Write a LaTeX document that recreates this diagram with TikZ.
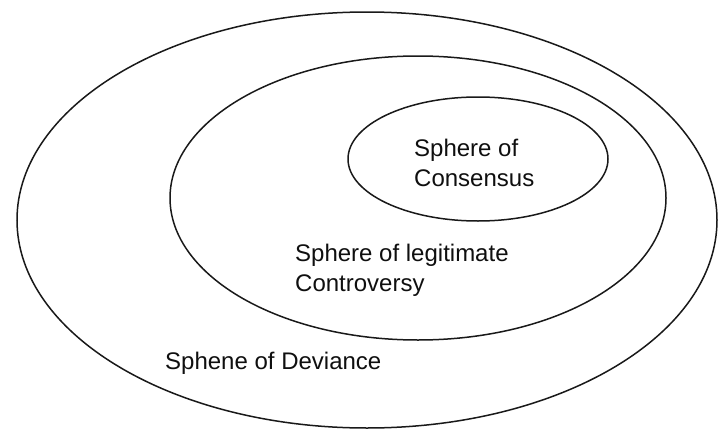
\documentclass[tikz,border=0pt]{standalone}
\usepackage{fontspec}
\setmainfont{Liberation Sans}
\usepackage{tikz}
\definecolor{sphereline}{RGB}{25, 25, 25}
\definecolor{spheretxt} {RGB}{15, 15, 15}

\begin{document}
\begin{tikzpicture}[x=1pt, y=-1pt,
  sphere/.style={line width=1.5pt, sphereline},
  spheretext/.style={spheretxt, inner sep=0pt, align=left,
    font=\fontsize{24}{30}\selectfont}]
  \useasboundingbox (0,0) rectangle (718,431);
  % spheres, outermost first
  \draw[sphere] (367,220) ellipse [x radius=350pt, y radius=208pt];
  \draw[sphere] (418,198) ellipse [x radius=248pt, y radius=142pt];
  \draw[sphere] (478,159) ellipse [x radius=130pt, y radius=62pt];
  % labels
  \node[spheretext, anchor=north west] (consensus) at (414,139) {Sphere of\\Consensus};
  \node[spheretext, anchor=north west] (controversy) at (295,244) {Sphere of legitimate\\Controversy};
  \node[spheretext, anchor=north west] (deviance) at (165,352) {Sphene of Deviance};
\end{tikzpicture}
\end{document}
